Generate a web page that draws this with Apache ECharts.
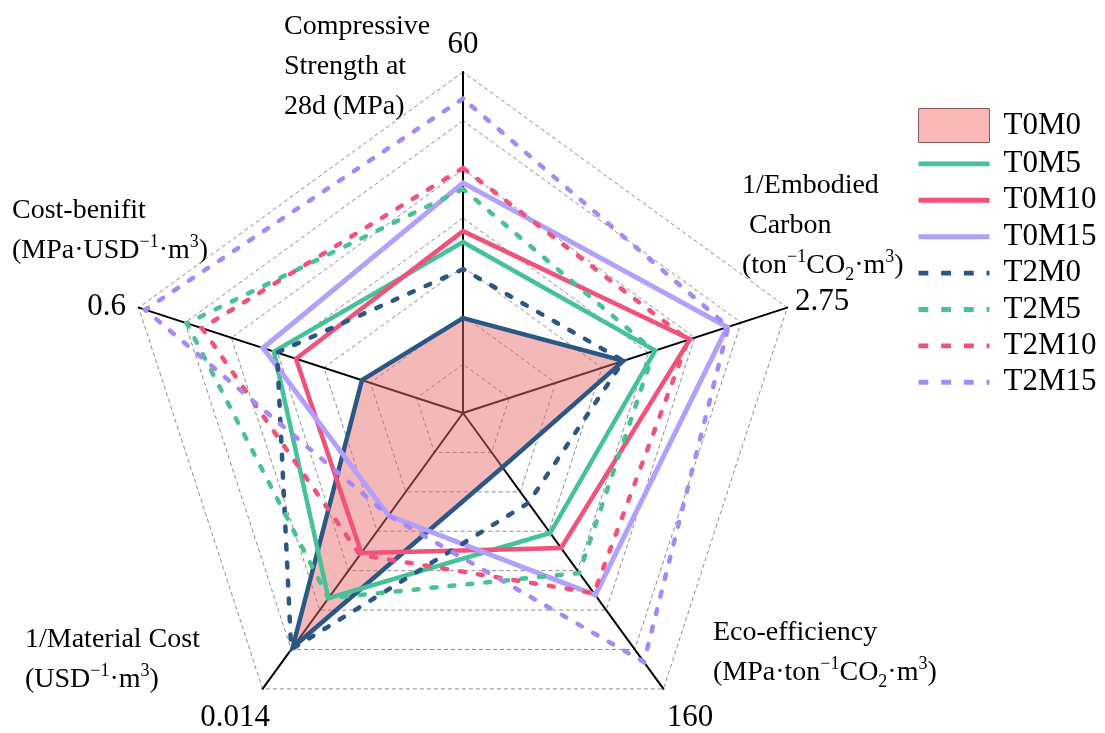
<!DOCTYPE html>
<html>
<head>
<meta charset="utf-8">
<script src="https://cdn.jsdelivr.net/npm/echarts@6/dist/echarts.min.js"></script>
<style>html,body{margin:0;padding:0;background:#fff;}#c{width:1105px;height:733px;}</style>
</head>
<body>
<div id="c"></div>
<script>
// Indicators (counter-clockwise from top)
const indicatorNames = ['Compressive Strength at 28d', 'Cost-benifit', '1/Material Cost', 'Eco-efficiency', '1/Embodied Carbon'];
const indicatorMax = [60, 0.6, 0.014, 160, 2.75];
const seriesNames = ['T0M0', 'T0M5', 'T0M10', 'T0M15', 'T2M0', 'T2M5', 'T2M10', 'T2M15'];
// Values: [compressive, cost-benefit, 1/material cost, eco-efficiency, 1/embodied carbon]
const T0M0 = [16.7, 0.187, 0.0119, 31.5, 1.36];
const T0M5 = [30.1, 0.350, 0.0094, 69.6, 1.63];
const T0M10 = [32.0, 0.309, 0.0071, 78.3, 1.925];
const T0M15 = [40.5, 0.370, 0.0052, 105.6, 2.24];
const T2M0 = [25.3, 0.344, 0.0120, 52.2, 1.36];
const T2M5 = [39.4, 0.511, 0.0094, 92.8, 1.62];
const T2M10 = [43.1, 0.483, 0.0072, 104.5, 1.91];
const T2M15 = [55.3, 0.588, 0.0052, 144.4, 2.25];
const seriesValues = [T0M0, T0M5, T0M10, T0M15, T2M0, T2M5, T2M10, T2M15];

const colors = {
  T0M0: '#2b5784', T0M5: '#47c197', T0M10: '#f0527a', T0M15: '#b3a0fa',
  T2M0: '#2b5784', T2M5: '#47c197', T2M10: '#f0527a', T2M15: '#a689f5'
};
const FONT = 'Liberation Serif';

const chart = echarts.init(document.getElementById('c'));

const series = [];
// filled area of T0M0 (drawn first, below all lines)
series.push({
  type: 'radar', name: 'T0M0', symbol: 'none', silent: true,
  lineStyle: { width: 0, opacity: 0 },
  itemStyle: { color: '#f9b8b8' },
  areaStyle: { color: '#ea6a6a', opacity: 0.48 },
  data: [{ value: T0M0, name: 'T0M0' }]
});
seriesNames.forEach((name, i) => {
  const dashed = name.startsWith('T2');
  series.push({
    type: 'radar',
    name: name,
    symbol: 'none',
    silent: true,
    lineStyle: {
      color: colors[name],
      width: name === 'T0M15' ? 5 : 4.5,
      type: dashed ? [5, 13] : 'solid',
      cap: 'round',
      join: 'miter'
    },
    itemStyle: { color: colors[name] },
    data: [{ value: seriesValues[i], name: name }]
  });
});

const solidIcon = 'path://M0 0H72V5H0Z';
const dashIcon = 'path://M0 0H10V5H0Z M23 0H33V5H23Z M46 0H56V5H46Z M69 0H72V5H69Z';
const legendData = seriesNames.map(name => {
  if (name === 'T0M0') {
    return { name, icon: 'path://M0 0H71V34H0Z', itemStyle: { color: '#f9b8b8', borderColor: '#8a5a5a', borderWidth: 1 } };
  }
  return { name, icon: name.startsWith('T2') ? dashIcon : solidIcon, itemStyle: { color: colors[name], borderWidth: 0 } };
});

const rich = {
  n: { fontSize: 28, fontFamily: FONT, lineHeight: 40, color: '#000' },
  big: { fontSize: 31, fontFamily: FONT, lineHeight: 40, color: '#000' },
  sup: { fontSize: 18, fontFamily: FONT, lineHeight: 20, padding: [0, 0, 18, 0], color: '#000' },
  sub: { fontSize: 18, fontFamily: FONT, lineHeight: 20, padding: [18, 0, 0, 0], color: '#000' }
};
function txt(x, y, text, align, vAlign, lineHeight) {
  return {
    type: 'text', x: x, y: y, silent: true,
    style: {
      text: text, rich: rich, fontSize: 28, fontFamily: FONT, fill: '#000',
      align: align, verticalAlign: vAlign, lineHeight: lineHeight || 40
    }
  };
}
const fmt = v => String(v);

const graphics = [
  // axis maximum labels
  txt(463, 45, '{big|' + fmt(indicatorMax[0]) + '}', 'center', 'middle'),
  txt(126, 307, '{big|' + fmt(indicatorMax[1]) + '}', 'right', 'middle'),
  txt(235, 718, '{big|' + fmt(indicatorMax[2]) + '}', 'center', 'middle'),
  txt(690, 718, '{big|' + fmt(indicatorMax[3]) + '}', 'center', 'middle'),
  txt(795, 302, '{big|' + fmt(indicatorMax[4]) + '}', 'left', 'middle'),
  // axis names
  txt(284, 7, '{n|Compressive}\n{n|Strength at}\n{n|28d (MPa)}', 'left', 'top', 36),
  txt(12, 191, '{n|Cost-benifit}\n{n|(MPa·USD}{sup|−1}{n|·m}{sup|3}{n|)}', 'left', 'top', 42),
  txt(742, 166, '{n|1/Embodied}\n{n| Carbon}\n{n|(ton}{sup|−1}{n|CO}{sub|2}{n|·m}{sup|3}{n|)}', 'left', 'top', 38),
  txt(25, 620, '{n|1/Material Cost}\n{n|(USD}{sup|−1}{n|·m}{sup|3}{n|)}', 'left', 'top', 42),
  txt(713, 613, '{n|Eco-efficiency}\n{n|(MPa·ton}{sup|−1}{n|CO}{sub|2}{n|·m}{sup|3}{n|)}', 'left', 'top', 42)
];

chart.setOption({
  backgroundColor: '#fff',
  animation: false,
  legend: {
    orient: 'vertical',
    left: 918, top: 108,
    padding: 0,
    itemWidth: 71, itemHeight: 34, itemGap: 5.4,
    symbolKeepAspect: true,
    selectedMode: false,
    textStyle: { fontSize: 31, fontFamily: FONT, color: '#000', padding: [0, 0, 0, 9] },
    data: legendData
  },
  radar: {
    center: [463, 413],
    radius: 341,
    startAngle: 90,
    shape: 'polygon',
    splitNumber: 7,
    indicator: indicatorNames.map((n, i) => ({ name: n, min: 0, max: indicatorMax[i] })),
    axisName: { show: false },
    axisLine: { lineStyle: { color: '#000', width: 2 } },
    axisTick: { show: false },
    axisLabel: { show: false },
    splitLine: { lineStyle: { color: '#8c8c8c', width: 1, type: [4, 3] } },
    splitArea: { show: false }
  },
  graphic: graphics,
  series: series
});
</script>
</body>
</html>
